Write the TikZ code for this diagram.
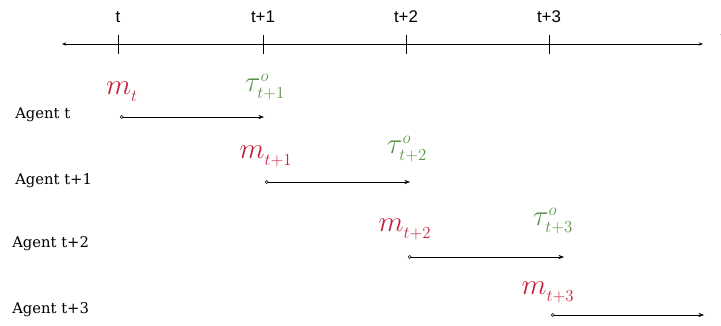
\documentclass[tikz,border=0pt]{standalone}
\usepackage{fontspec}
\setmainfont{DejaVu Serif}
\newfontfamily\axisfont{Liberation Sans}
\usepackage{tikz}
\usetikzlibrary{arrows.meta, positioning, calc}
\definecolor{msgred}{RGB}{196, 36, 62}
\definecolor{taugreen}{RGB}{88, 148, 72}
\newcommand{\msg}[1]{$m^{\vphantom{o}}_{\scriptscriptstyle #1}$}
\newcommand{\tauo}[1]{$\tau^{\scriptscriptstyle o}_{\scriptscriptstyle #1}$}

\begin{document}
\begin{tikzpicture}[
  x=0.025cm, y=-0.025cm,
  ticklab/.style={font=\axisfont\large, inner sep=1pt},
  agentlab/.style={anchor=west, font=\fontsize{10.5}{12}\selectfont, inner sep=0pt},
  msglab/.style={text=msgred, font=\huge, inner sep=0pt},
  taulab/.style={text=taugreen, font=\huge, inner sep=0pt},
  axarr/.style={{Stealth[length=3pt]}-{Stealth[length=3pt]}, thin},
  evarr/.style={{Circle[open, length=2.5pt]}-{Stealth[length=4pt]}, thin}
]
  \useasboundingbox (0,0) rectangle (721,325);
  \clip (0,0) rectangle (721,325);

  % time axis
  \coordinate (axl) at (62,44);
  \coordinate (axr) at (703,44);
  \draw[axarr] (axl) -- (axr);
  \node[ticklab] (tend) at (723,38) {t};
  \foreach \x/\lab/\n in {118/t/0, 263/t+1/1, 406/t+2/2, 549/t+3/3} {
    \coordinate (tk\n) at (\x,44);
    \draw ($(tk\n)+(0,-9)$) -- ($(tk\n)+(0,10)$);
    \node[ticklab] (tl\n) at (\x,17) {\lab};
  }

  % agents
  \node[agentlab] (ag0) at (15,115) {Agent t};
  \node[agentlab] (ag1) at (15,181) {Agent t+1};
  \node[agentlab] (ag2) at (12,244) {Agent t+2};
  \node[agentlab] (ag3) at (12,310) {Agent t+3};

  \coordinate (s0) at (120,117); \coordinate (e0) at (264,117);
  \coordinate (s1) at (265,182); \coordinate (e1) at (410,182);
  \coordinate (s2) at (408,257); \coordinate (e2) at (564,257);
  \coordinate (s3) at (551,315); \coordinate (e3) at (704,315);
  \foreach \n in {0,...,3}
    \draw[evarr] (s\n) -- (e\n);

  % messages and taus
  \node[msglab] (m0) at (122,88) {\msg{t}};
  \node[taulab] (tau1) at (265,87) {\tauo{t+1}};
  \node[msglab] (m1) at (266,153) {\msg{t+1}};
  \node[taulab] (tau2) at (407,149) {\tauo{t+2}};
  \node[msglab] (m2) at (405,226) {\msg{t+2}};
  \node[taulab] (tau3) at (553,221) {\tauo{t+3}};
  \node[msglab] (m3) at (548,289) {\msg{t+3}};

\end{tikzpicture}
\end{document}
